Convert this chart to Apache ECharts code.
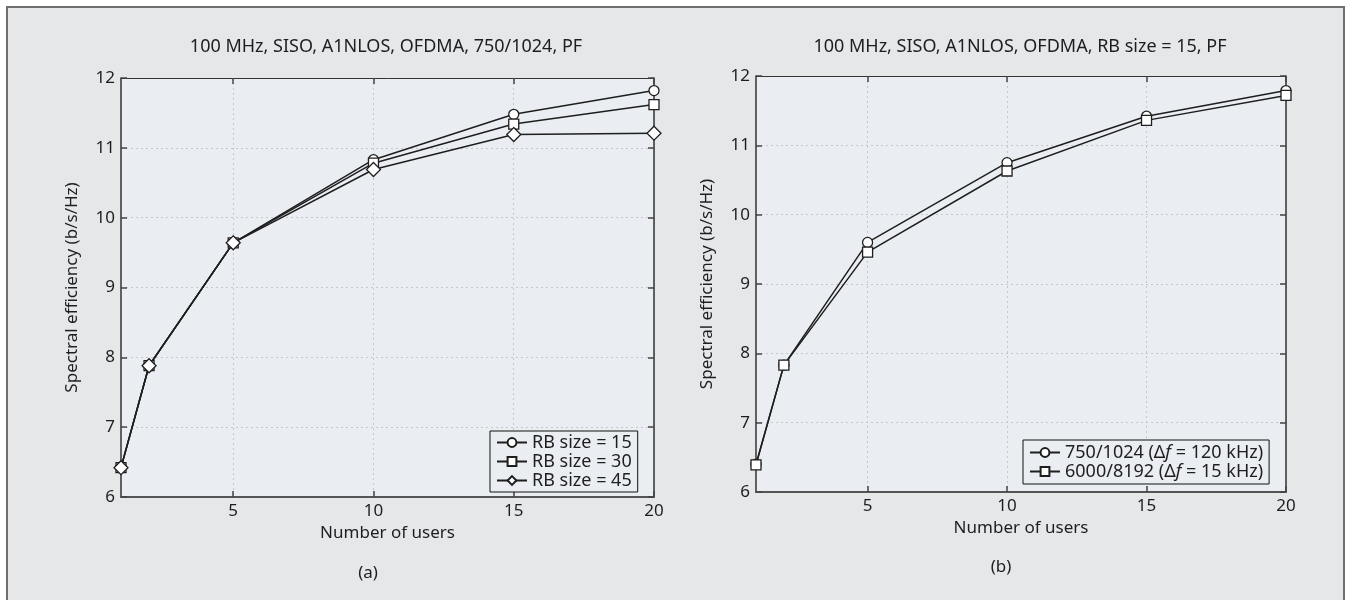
<!DOCTYPE html>
<html>
<head>
<meta charset="utf-8">
<script src="https://cdn.jsdelivr.net/npm/echarts@6/dist/echarts.min.js"></script>
<style>html,body{margin:0;padding:0;background:#fff;}#c{width:1350px;height:600px;}</style>
</head>
<body>
<div id="c"></div>
<script>
// ---- data ----
const users = [1, 2, 5, 10, 15, 20];
const xTicks = [5, 10, 15, 20];
const yTicks = [6, 7, 8, 9, 10, 11, 12];

const titleA = '100 MHz, SISO, A1NLOS, OFDMA, 750/1024, PF';
const titleB = '100 MHz, SISO, A1NLOS, OFDMA, RB size = 15, PF';
const xName = 'Number of users';
const yName = 'Spectral efficiency (b/s/Hz)';

const namesA = ['RB size = 15', 'RB size = 30', 'RB size = 45'];
const rb15 = [6.42, 7.88, 9.64, 10.83, 11.48, 11.82];
const rb30 = [6.42, 7.88, 9.64, 10.78, 11.34, 11.62];
const rb45 = [6.42, 7.88, 9.64, 10.69, 11.19, 11.21];

const namesB = ['750/1024 (Δf = 120 kHz)', '6000/8192 (Δf = 15 kHz)'];
const fft1024 = [6.40, 7.83, 9.60, 10.75, 11.42, 11.79];
const fft8192 = [6.39, 7.83, 9.46, 10.63, 11.36, 11.72];

const pair = (ys) => users.map((u, i) => [u, ys[i]]);

// ---- styling ----
const FONT = 'Noto Sans';
const INK = '#1e1e1e';
const PLOT_BG = '#eaeef2';

function lineSeries(name, ys, symbol, size, idx) {
  return {
    type: 'line', name: name, data: pair(ys),
    xAxisIndex: idx * 2, yAxisIndex: idx * 2,
    symbol: symbol, symbolSize: size,
    lineStyle: { color: INK, width: 1.5 },
    itemStyle: { color: '#fff', borderColor: INK, borderWidth: 1.3 },
    emphasis: { disabled: true },
    animation: false
  };
}

function axesFor(idx) {
  const tickCommon = { show: true, inside: true, length: 6, lineStyle: { color: '#444', width: 1.5 } };
  const xs = [
    {
      type: 'value', gridIndex: idx, position: 'bottom', min: 1, max: 20,
      name: xName, nameLocation: 'middle', nameGap: 28,
      nameTextStyle: { fontFamily: FONT, fontSize: 17, color: INK },
      axisLine: { show: true, onZero: false, lineStyle: { color: '#555', width: 2 } },
      axisTick: Object.assign({}, tickCommon, { customValues: xTicks }),
      axisLabel: { customValues: xTicks, fontFamily: FONT, fontSize: 17, color: INK, margin: 6 },
      splitLine: { show: true, customValues: xTicks, lineStyle: { color: '#c4c7cb', type: [2, 3], width: 1 } }
    },
    {
      type: 'value', gridIndex: idx, position: 'top', min: 1, max: 20,
      axisLine: { show: true, onZero: false, lineStyle: { color: '#333', width: 1 } },
      axisTick: Object.assign({}, tickCommon, { customValues: xTicks }),
      axisLabel: { show: false, customValues: xTicks },
      splitLine: { show: false }
    }
  ];
  const ys = [
    {
      type: 'value', gridIndex: idx, position: 'left', min: 6, max: 12, interval: 1,
      name: yName, nameLocation: 'middle', nameGap: 40,
      nameTextStyle: { fontFamily: FONT, fontSize: 17, color: INK },
      axisLine: { show: true, onZero: false, lineStyle: { color: '#333', width: 1.5 } },
      axisTick: tickCommon,
      axisLabel: { fontFamily: FONT, fontSize: 17, color: INK, margin: 6 },
      splitLine: { show: true, lineStyle: { color: '#c4c7cb', type: [2, 3], width: 1 } }
    },
    {
      type: 'value', gridIndex: idx, position: 'right', min: 6, max: 12, interval: 1,
      axisLine: { show: true, onZero: false, lineStyle: { color: '#333', width: 1.5 } },
      axisTick: tickCommon,
      axisLabel: { show: false },
      splitLine: { show: false }
    }
  ];
  return { xs, ys };
}

const a0 = axesFor(0), a1 = axesFor(1);

const legendText = {
  fontFamily: FONT, fontSize: 18, color: INK, lineHeight: 19,
  rich: {
    n: { fontFamily: FONT, fontSize: 18, color: INK, lineHeight: 19 },
    i: { fontFamily: FONT, fontSize: 18, color: INK, fontStyle: 'italic', lineHeight: 19 }
  }
};

const option = {
  backgroundColor: '#ffffff',
  animation: false,
  graphic: [
    { type: 'rect', z: -10, silent: true,
      shape: { x: 7, y: 7, width: 1337, height: 600 },
      style: { fill: '#e6e7e9', stroke: '#6f6f6f', lineWidth: 2 } },
    { type: 'text', x: 386, y: 47, silent: true,
      style: { text: titleA, fontFamily: FONT, fontSize: 18, fill: INK, textAlign: 'center', textVerticalAlign: 'middle' } },
    { type: 'text', x: 1020, y: 47, silent: true,
      style: { text: titleB, fontFamily: FONT, fontSize: 18, fill: INK, textAlign: 'center', textVerticalAlign: 'middle' } },
    { type: 'text', x: 368, y: 573, silent: true,
      style: { text: '(a)', fontFamily: FONT, fontSize: 17, fill: INK, textAlign: 'center', textVerticalAlign: 'middle' } },
    { type: 'text', x: 1001, y: 567, silent: true,
      style: { text: '(b)', fontFamily: FONT, fontSize: 17, fill: INK, textAlign: 'center', textVerticalAlign: 'middle' } }
  ],
  grid: [
    { left: 121, right: 696, top: 78, bottom: 103, show: true, backgroundColor: PLOT_BG, borderWidth: 0 },
    { left: 756, right: 64, top: 76, bottom: 108, show: true, backgroundColor: PLOT_BG, borderWidth: 0 }
  ],
  xAxis: a0.xs.concat(a1.xs),
  yAxis: a0.ys.concat(a1.ys),
  legend: [
    {
      data: namesA, orient: 'vertical', left: 490, top: 431,
      backgroundColor: PLOT_BG, borderColor: '#111', borderWidth: 1,
      padding: [2, 6, 2, 6], itemGap: 0, itemWidth: 30, itemHeight: 11,
      textStyle: legendText, selectedMode: false
    },
    {
      data: namesB, orient: 'vertical', left: 1023, top: 440,
      backgroundColor: PLOT_BG, borderColor: '#111', borderWidth: 1,
      padding: [3, 6, 3, 6], itemGap: 0, itemWidth: 30, itemHeight: 11,
      textStyle: legendText, selectedMode: false,
      formatter: function (name) {
        const parts = name.split('Δf');
        return '{n|' + parts[0] + 'Δ}{i|f}{n|' + parts[1] + '}';
      }
    }
  ],
  series: [
    lineSeries(namesA[0], rb15, 'circle', 10, 0),
    lineSeries(namesA[1], rb30, 'rect', 10, 0),
    lineSeries(namesA[2], rb45, 'diamond', 14, 0),
    lineSeries(namesB[0], fft1024, 'circle', 10, 1),
    lineSeries(namesB[1], fft8192, 'rect', 10, 1)
  ]
};

const chart = echarts.init(document.getElementById('c'), null, { renderer: 'canvas' });
chart.setOption(option);
</script>
</body>
</html>
